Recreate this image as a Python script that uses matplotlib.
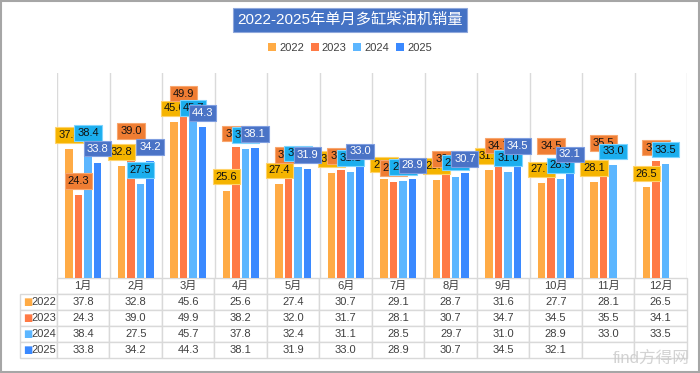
import matplotlib
matplotlib.use('Agg')
import matplotlib.pyplot as plt
from matplotlib.patches import Rectangle
import numpy as np

plt.rcParams['font.family'] = ['Liberation Sans', 'Noto Sans CJK SC', 'DejaVu Sans']

months = ['1月', '2月', '3月', '4月', '5月', '6月', '7月', '8月', '9月', '10月', '11月', '12月']
years = ['2022', '2023', '2024', '2025']
v2022 = [37.8, 32.8, 45.6, 25.6, 27.4, 30.7, 29.1, 28.7, 31.6, 27.7, 28.1, 26.5]
v2023 = [24.3, 39.0, 49.9, 38.2, 32.0, 31.7, 28.1, 30.7, 34.7, 34.5, 35.5, 34.1]
v2024 = [38.4, 27.5, 45.7, 37.8, 32.4, 31.1, 28.5, 29.7, 31.0, 28.9, 33.0, 33.5]
v2025 = [33.8, 34.2, 44.3, 38.1, 31.9, 33.0, 28.9, 30.7, 34.5, 32.1, None, None]
series = [v2022, v2023, v2024, v2025]

bar_colors = ['#FFAB45', '#FF7A45', '#5CB6FF', '#3A89FF']
box_colors = ['#F5B400', '#EF7D33', '#1BAEEE', '#4A73C6']
box_edges = ['#FFD36B', '#F8A66E', '#7FD4FF', '#7F9EE0']
txt_colors = ['#111111', '#111111', '#111111', '#FFFFFF']

fig = plt.figure(figsize=(7, 3.73), dpi=100)
ax = fig.add_axes([57/700, 1-278/373, 630/700, 205/373])

x = np.arange(len(months))
step = 0.18
width = 0.14
for i, vals in enumerate(series):
    xs = [xi + (i - 1.5)*step for xi, v in zip(x, vals) if v is not None]
    ys = [v for v in vals if v is not None]
    ax.bar(xs, ys, width=width, color=bar_colors[i], label=years[i], zorder=2)

# data labels (later series drawn on top)
for i, vals in enumerate(series):
    for xi, v in zip(x, vals):
        if v is None:
            continue
        ax.annotate(f'{v:.1f}', (xi + (i - 1.5)*step, v), xytext=(0, 10),
                    textcoords='offset points', ha='center', va='center',
                    fontsize=8, color=txt_colors[i], zorder=5 + i,
                    bbox=dict(boxstyle='square,pad=0.25', fc=box_colors[i],
                              ec=box_edges[i], lw=0.8))

ax.set_xlim(-0.5, 11.5)
ax.set_ylim(0, 60)
ax.set_xticks(np.arange(13) - 0.5)
ax.set_xticklabels([])
ax.set_yticks([])
ax.tick_params(length=0)
ax.grid(axis='x', color='#DADADA', lw=1, zorder=0)
for s in ax.spines.values():
    s.set_visible(False)

# data table under the plot, first column holds the years
cell_text = [[yr] + [('' if v is None else f'{v:.1f}') for v in vals]
             for yr, vals in zip(years, series)]
lw_frac = 37/630
tot = 630 + 37
tbl = ax.table(cellText=cell_text, colLabels=[''] + months, cellLoc='center',
               colWidths=[37/tot] + [52.5/tot]*12,
               bbox=[-lw_frac, -80/205, 1 + lw_frac, 80/205])
tbl.auto_set_font_size(False)
tbl.set_fontsize(8)
for (r, c), cell in tbl.get_celld().items():
    cell.set_edgecolor('#D9D9D9')
    cell.set_linewidth(1)
    cell.get_text().set_color('#404040')
    if c == 0:
        cell.get_text().set_ha('right')
        cell.PAD = 0.03
    if r == 0 and c == 0:
        cell.visible_edges = ''

for i in range(4):
    yc = -80/205 + (3 - i + 0.5) * 16/205
    ax.text(-lw_frac + 0.005, yc, '■', transform=ax.transAxes, color=bar_colors[i],
            fontsize=7, va='center', ha='left', family='DejaVu Sans')

# title box
fig.text(0.5, 1 - 20/373, '2022-2025年单月多缸柴油机销量', ha='center', va='center',
         fontsize=11, color='white',
         bbox=dict(boxstyle='square,pad=0.3', fc='#4472C4', ec='#8FA8DC', lw=0.8))

fig.legend(loc='center', bbox_to_anchor=(0.5, 1 - 48/373), ncol=4, frameon=False,
           fontsize=8, handlelength=0.7, handleheight=0.7, handletextpad=0.3,
           columnspacing=0.6, labelcolor='#404040')

# watermark
fig.text(0.985, 0.02, 'find方得网', ha='right', va='bottom', fontsize=12,
         color='#C8C8C8', alpha=0.8)

fig.patches.append(Rectangle((0.002, 0.003), 0.996, 0.994, transform=fig.transFigure,
                             fill=False, ec='#A6A6A6', lw=1.5))

fig.savefig('out.png', dpi=100)
